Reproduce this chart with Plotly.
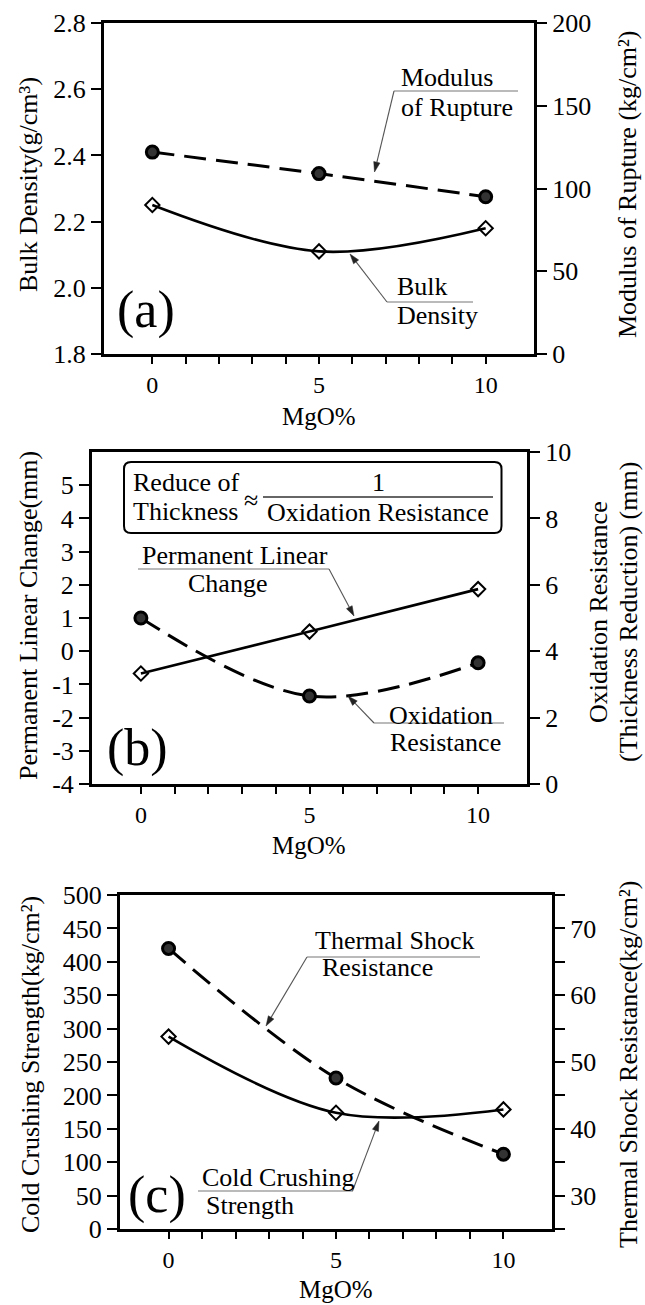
import math
import plotly.graph_objects as go

# ---------------- data ----------------
mgo = [0, 5, 10]
bulk_density = [2.25, 2.11, 2.18]            # g/cm3 (left axis, panel a)
modulus_rupture = [122, 109, 95]             # kg/cm2 (right axis, panel a)
perm_linear_change = [-0.67, 0.59, 1.87]     # mm (left axis, panel b)
oxidation_resistance = [5.0, 2.65, 3.65]     # mm (right axis, panel b)
cold_crushing = [288, 174, 179]              # kg/cm2 (left axis, panel c)
thermal_shock = [67.0, 47.6, 36.2]           # kg/cm2 (right axis, panel c)

x_labels = [0, 5, 10]
x_minor = list(range(0, 11))

W, H = 645, 1305
FONT = "Liberation Serif, Times New Roman, DejaVu Serif, serif"
TICK = 26
XTICK = 24
TXT = 26


def X(px):
    return px / W


def Y(py):
    return 1 - py / H


fig = go.Figure()

circle = dict(symbol="circle", size=12, color="#333333", line=dict(color="black", width=3))
diamond = dict(symbol="diamond-open", size=11, color="black", line=dict(color="black", width=2))
solid = dict(color="black", width=2.6, shape="spline", smoothing=1)
dashed = dict(color="black", width=3, dash="22px,10px", shape="spline", smoothing=1)

# panel a
fig.add_trace(go.Scatter(x=mgo, y=modulus_rupture, mode="lines+markers", line=dashed,
                         marker=circle, xaxis="x", yaxis="y2", name="Modulus of Rupture"))
fig.add_trace(go.Scatter(x=mgo, y=bulk_density, mode="lines+markers", line=solid,
                         marker=diamond, xaxis="x", yaxis="y", name="Bulk Density"))
# panel b
fig.add_trace(go.Scatter(x=mgo, y=oxidation_resistance, mode="lines+markers", line=dashed,
                         marker=circle, xaxis="x2", yaxis="y4", name="Oxidation Resistance"))
fig.add_trace(go.Scatter(x=mgo, y=perm_linear_change, mode="lines+markers", line=solid,
                         marker=diamond, xaxis="x2", yaxis="y3", name="Permanent Linear Change"))
# panel c
fig.add_trace(go.Scatter(x=mgo, y=thermal_shock, mode="lines+markers", line=dashed,
                         marker=circle, xaxis="x3", yaxis="y6", name="Thermal Shock Resistance"))
fig.add_trace(go.Scatter(x=mgo, y=cold_crushing, mode="lines+markers", line=solid,
                         marker=diamond, xaxis="x3", yaxis="y5", name="Cold Crushing Strength"))


def minor(vals, ln):
    return dict(tickmode="array", tickvals=vals, ticks="outside", ticklen=ln, tickwidth=2,
                tickcolor="black", showgrid=False)


def xax(domain, anchor):
    return dict(domain=domain, anchor=anchor, range=[-1.45, 11.45], tickmode="array",
                tickvals=x_labels, ticktext=[str(v) for v in x_labels], ticks="outside",
                ticklen=7, tickwidth=2, tickcolor="black", minor=minor(x_minor, 7),
                showline=True, linewidth=3, linecolor="black", mirror=True,
                showgrid=False, zeroline=False,
                tickfont=dict(family=FONT, size=XTICK, color="black"), automargin=False)


def yax(domain, anchor, rng, vals, texts, side="left", overlaying=None, minor_vals=None):
    d = dict(domain=domain, anchor=anchor, range=rng, tickmode="array", tickvals=vals,
             ticktext=texts, ticks="outside", ticklen=10, tickwidth=2, tickcolor="black",
             showline=True, linewidth=3, linecolor="black", showgrid=False, zeroline=False,
             tickfont=dict(family=FONT, size=TICK, color="black"), side=side, automargin=False)
    if overlaying:
        d["overlaying"] = overlaying
    if minor_vals:
        d["minor"] = minor(minor_vals, 10)
    return d


dom_a = dict(x=[X(104), X(534)], y=[Y(354), Y(23)])
dom_b = dict(x=[X(92), X(527)], y=[Y(784), Y(452)])
dom_c = dict(x=[X(120), X(552)], y=[Y(1229), Y(895)])

bd_vals = [1.8, 2.0, 2.2, 2.4, 2.6, 2.8]
mr_vals = [0, 50, 100, 150, 200]
plc_vals = [-4, -3, -2, -1, 0, 1, 2, 3, 4, 5]
ox_vals = [0, 2, 4, 6, 8, 10]
ccs_vals = list(range(0, 501, 50))
tsr_vals = [30, 40, 50, 60, 70]
tsr_minor = list(range(25, 76, 5))

fig.update_layout(
    xaxis=xax(dom_a["x"], "y"),
    yaxis=yax(dom_a["y"], "x", [1.8, 2.8], bd_vals, [f"{v:.1f}" for v in bd_vals]),
    yaxis2=yax(dom_a["y"], "x", [0, 200], mr_vals, [str(v) for v in mr_vals], "right", "y"),
    xaxis2=xax(dom_b["x"], "y3"),
    yaxis3=yax(dom_b["y"], "x2", [-4, 6], plc_vals, [str(v) for v in plc_vals]),
    yaxis4=yax(dom_b["y"], "x2", [0, 10], ox_vals, [str(v) for v in ox_vals], "right", "y3"),
    xaxis3=xax(dom_c["x"], "y5"),
    yaxis5=yax(dom_c["y"], "x3", [0, 500], ccs_vals, [str(v) for v in ccs_vals]),
    yaxis6=yax(dom_c["y"], "x3", [25, 75], tsr_vals, [str(v) for v in tsr_vals], "right", "y5",
               minor_vals=tsr_minor),
)

ann = []
shapes = []


def text(t, px, py, size=TXT, xanchor="left", angle=0):
    ann.append(dict(text=t, x=X(px), y=Y(py), xref="paper", yref="paper", showarrow=False,
                    xanchor=xanchor, yanchor="middle", textangle=angle,
                    font=dict(family=FONT, size=size, color="black")))


def hline(x0, x1, py, color="#777777", width=1.2):
    shapes.append(dict(type="line", xref="paper", yref="paper", x0=X(x0), x1=X(x1),
                       y0=Y(py), y1=Y(py), line=dict(color=color, width=width)))


def leader(tail, head, color="#555555"):
    tx, ty = tail
    hx, hy = head
    dx, dy = hx - tx, hy - ty
    L = math.hypot(dx, dy)
    ux, uy = dx / L, dy / L
    alen, aw = 10, 3.2
    bx, by = hx - ux * alen, hy - uy * alen
    shapes.append(dict(type="line", xref="paper", yref="paper", x0=X(tx), y0=Y(ty),
                       x1=X(bx), y1=Y(by), line=dict(color=color, width=1.1)))
    p1 = (bx - uy * aw, by + ux * aw)
    p2 = (bx + uy * aw, by - ux * aw)
    path = (f"M {X(hx)} {Y(hy)} L {X(p1[0])} {Y(p1[1])} L {X(p2[0])} {Y(p2[1])} Z")
    shapes.append(dict(type="path", xref="paper", yref="paper", path=path,
                       fillcolor="#222222", line=dict(color="#222222", width=0.5)))


# axis titles
text("Bulk Density(g/cm³)", 29, 185, angle=-90, xanchor="center")
text("Modulus of Rupture (kg/cm²)", 628, 185, angle=-90, xanchor="center")
text("MgO%", 319, 416, size=25, xanchor="center")
text("Permanent Linear Change(mm)", 28, 616, angle=-90, xanchor="center")
text("Oxidation Resistance", 598, 612, angle=-90, xanchor="center")
text("(Thickness Reduction) (mm)", 628, 612, angle=-90, xanchor="center")
text("MgO%", 309, 845, size=25, xanchor="center")
text("Cold Crushing Strength(kg/cm²)", 30, 1065, angle=-90, xanchor="center")
text("Thermal Shock Resistance(kg/cm²)", 628, 1065, angle=-90, xanchor="center")
text("MgO%", 336, 1289, size=25, xanchor="center")

# panel a labels
text("Modulus", 399, 78)
text("of Rupture", 399, 107)
hline(394, 518, 91)
leader((394, 91), (374.5, 172))
text("Bulk", 395, 286)
text("Density", 395, 316)
hline(387, 473, 302)
leader((387, 302), (350, 254))
text("(a)", 146, 310, size=52, xanchor="center")

# panel b labels
r = 7
bx0, bx1, by0, by1 = 124, 501.5, 462, 533
path = (f"M {X(bx0 + r)} {Y(by0)} L {X(bx1 - r)} {Y(by0)} Q {X(bx1)} {Y(by0)} {X(bx1)} {Y(by0 + r)} "
        f"L {X(bx1)} {Y(by1 - r)} Q {X(bx1)} {Y(by1)} {X(bx1 - r)} {Y(by1)} "
        f"L {X(bx0 + r)} {Y(by1)} Q {X(bx0)} {Y(by1)} {X(bx0)} {Y(by1 - r)} "
        f"L {X(bx0)} {Y(by0 + r)} Q {X(bx0)} {Y(by0)} {X(bx0 + r)} {Y(by0)} Z")
shapes.append(dict(type="path", xref="paper", yref="paper", path=path,
                   line=dict(color="black", width=2)))
text("Reduce of", 131, 482)
text("Thickness", 131, 511)
text("≈", 251, 500, xanchor="center")
text("1", 378, 483, xanchor="center")
hline(263, 493, 497, color="#333333", width=1.3)
text("Oxidation Resistance", 378, 512, xanchor="center")

text("Permanent Linear", 235, 555, xanchor="center")
hline(138, 329, 569)
text("Change", 227, 583, xanchor="center")
leader((329, 569), (354, 616))
text("Oxidation", 387, 715)
hline(374, 504, 723)
text("Resistance", 388, 742)
leader((374, 723), (348, 696))
text("(b)", 137, 748, size=52, xanchor="center")

# panel c labels
text("Thermal Shock", 313, 940)
hline(307, 480, 957)
text("Resistance", 320, 968)
leader((307, 957), (266, 1026))
text("Cold Crushing", 200, 1177)
hline(198, 353, 1191)
text("Strength", 204, 1205)
leader((352.5, 1191), (379, 1121))
text("(c)", 157, 1195, size=52, xanchor="center")

fig.update_layout(
    width=W, height=H, margin=dict(l=0, r=0, t=0, b=0, autoexpand=False),
    paper_bgcolor="white", plot_bgcolor="white", showlegend=False,
    annotations=ann, shapes=shapes, font=dict(family=FONT, color="black"),
)

fig.write_html("out.html")
